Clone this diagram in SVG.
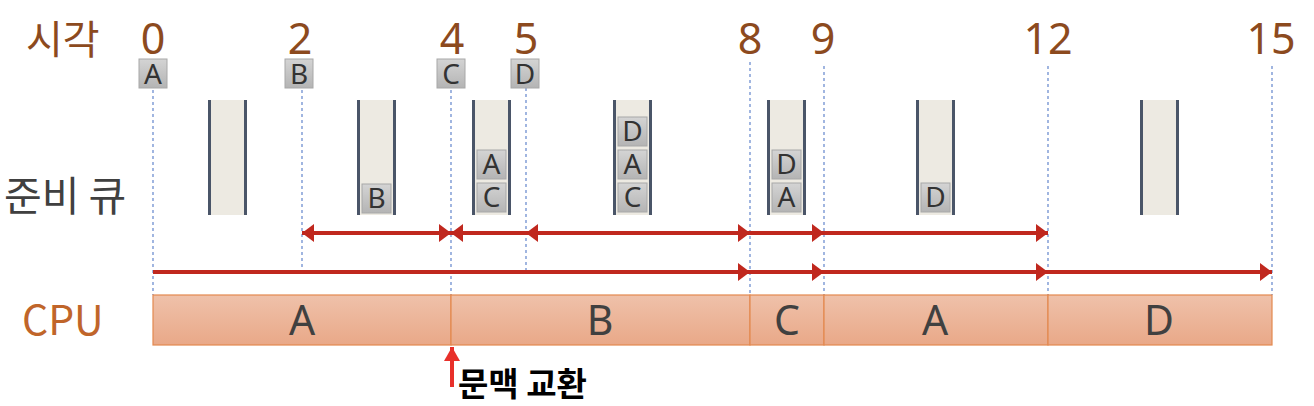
<svg xmlns="http://www.w3.org/2000/svg" width="1314" height="406" viewBox="0 0 1314 406">
<defs>
<linearGradient id="pg" x1="0" y1="0" x2="0" y2="1">
<stop offset="0" stop-color="#d4d4d4"/><stop offset="1" stop-color="#b4b4b4"/>
</linearGradient>
<linearGradient id="cg" x1="0" y1="0" x2="0" y2="1">
<stop offset="0" stop-color="#efc1aa"/><stop offset="1" stop-color="#e9a888"/>
</linearGradient>
<marker id="ah" viewBox="0 0 12 18" refX="12" refY="9" markerWidth="12" markerHeight="18" markerUnits="userSpaceOnUse" orient="auto-start-reverse">
<path d="M0,0 L12,9 L0,18 Z" fill="#c0281e"/>
</marker>
<marker id="rh" viewBox="0 0 14 16" refX="14" refY="8" markerWidth="14" markerHeight="16" markerUnits="userSpaceOnUse" orient="auto">
<path d="M0,0 L14,8 L0,16 Z" fill="#e8302a"/>
</marker>
</defs>
<style>
.lbl{font-family:"Noto Sans CJK KR","Noto Sans",sans-serif;}
.time{font-family:"Noto Sans","Noto Sans CJK KR",sans-serif;font-size:43px;fill:#8c4a1e;text-anchor:middle;}
.pbox{fill:url(#pg);stroke:#a8a8a8;stroke-width:1;}
.ptxt{font-family:"Noto Sans","Noto Sans CJK KR",sans-serif;font-size:28px;fill:#333;text-anchor:middle;}
.qfill{fill:#edeae2;}
.qside{stroke:#4a5568;stroke-width:3;}
.dash{stroke:#6f8fd0;stroke-width:1.3;stroke-dasharray:3,3;fill:none;}
.red{stroke:#c0281e;stroke-width:4;fill:none;}
.cpu{fill:url(#cg);stroke:#e3894f;stroke-width:1.2;}
.ctxt{font-family:"Noto Sans","Noto Sans CJK KR",sans-serif;font-size:41px;fill:#404040;text-anchor:middle;}
</style>

<g id="labels">
<text class="lbl" x="26" y="54" font-size="40" fill="#8c4a1e">시각</text>
<text class="lbl" x="4" y="211" font-size="41" fill="#404040">준비 큐</text>
<text class="lbl" x="22" y="335" font-size="41" fill="#c0652a">CPU</text>
</g>

<g id="time-axis">
<text class="time" x="153" y="54">0</text>
<text class="time" x="300" y="54">2</text>
<text class="time" x="452" y="54">4</text>
<text class="time" x="526" y="54">5</text>
<text class="time" x="750" y="54">8</text>
<text class="time" x="823" y="54">9</text>
<text class="time" x="1048" y="54">12</text>
<text class="time" x="1271" y="54">15</text>
</g>

<g id="guides">
<line class="dash" x1="153" y1="90" x2="153" y2="295"/>
<line class="dash" x1="302" y1="90" x2="302" y2="272"/>
<line class="dash" x1="451" y1="90" x2="451" y2="350"/>
<line class="dash" x1="526" y1="88" x2="526" y2="270"/>
<line class="dash" x1="750" y1="62" x2="750" y2="295"/>
<line class="dash" x1="824" y1="66" x2="824" y2="295"/>
<line class="dash" x1="1048" y1="66" x2="1048" y2="345"/>
<line class="dash" x1="1272" y1="66" x2="1272" y2="295"/>
</g>

<g id="arrivals">
<rect class="pbox" x="139" y="59" width="28" height="29"/><text class="ptxt" x="153" y="84">A</text>
<rect class="pbox" x="285" y="59" width="28" height="29"/><text class="ptxt" x="299" y="84">B</text>
<rect class="pbox" x="437" y="59" width="28" height="29"/><text class="ptxt" x="451" y="84">C</text>
<rect class="pbox" x="511" y="59" width="28" height="29"/><text class="ptxt" x="525" y="84">D</text>
</g>

<g id="queue-0">
<rect class="qfill" x="209" y="100" width="37" height="115"/>
<line class="qside" x1="209.5" y1="100" x2="209.5" y2="215"/><line class="qside" x1="245.5" y1="100" x2="245.5" y2="215"/>
</g>
<g id="queue-2">
<rect class="qfill" x="358" y="100" width="37" height="115"/>
<line class="qside" x1="358.5" y1="100" x2="358.5" y2="215"/><line class="qside" x1="394.5" y1="100" x2="394.5" y2="215"/>
<rect class="pbox" x="362" y="184" width="29" height="29"/><text class="ptxt" x="376.5" y="208">B</text>
</g>
<g id="queue-4">
<rect class="qfill" x="473" y="100" width="37" height="115"/>
<line class="qside" x1="473.5" y1="100" x2="473.5" y2="215"/><line class="qside" x1="509.5" y1="100" x2="509.5" y2="215"/>
<rect class="pbox" x="477" y="150" width="29" height="29"/><text class="ptxt" x="491.5" y="174">A</text>
<rect class="pbox" x="477" y="183" width="29" height="29"/><text class="ptxt" x="491.5" y="207">C</text>
</g>
<g id="queue-5">
<rect class="qfill" x="614" y="100" width="37" height="115"/>
<line class="qside" x1="614.5" y1="100" x2="614.5" y2="215"/><line class="qside" x1="650.5" y1="100" x2="650.5" y2="215"/>
<rect class="pbox" x="618" y="117" width="29" height="29"/><text class="ptxt" x="632.5" y="141">D</text>
<rect class="pbox" x="618" y="150" width="29" height="29"/><text class="ptxt" x="632.5" y="174">A</text>
<rect class="pbox" x="618" y="183" width="29" height="29"/><text class="ptxt" x="632.5" y="207">C</text>
</g>
<g id="queue-8">
<rect class="qfill" x="768" y="100" width="37" height="115"/>
<line class="qside" x1="768.5" y1="100" x2="768.5" y2="215"/><line class="qside" x1="804.5" y1="100" x2="804.5" y2="215"/>
<rect class="pbox" x="772" y="150" width="29" height="29"/><text class="ptxt" x="786.5" y="174">D</text>
<rect class="pbox" x="772" y="183" width="29" height="29"/><text class="ptxt" x="786.5" y="207">A</text>
</g>
<g id="queue-9">
<rect class="qfill" x="917" y="100" width="37" height="115"/>
<line class="qside" x1="917.5" y1="100" x2="917.5" y2="215"/><line class="qside" x1="953.5" y1="100" x2="953.5" y2="215"/>
<rect class="pbox" x="921" y="183" width="29" height="29"/><text class="ptxt" x="935.5" y="207">D</text>
</g>
<g id="queue-12">
<rect class="qfill" x="1141" y="100" width="37" height="115"/>
<line class="qside" x1="1141.5" y1="100" x2="1141.5" y2="215"/><line class="qside" x1="1177.5" y1="100" x2="1177.5" y2="215"/>
</g>

<g id="connectors">
<line class="red" x1="302" y1="233" x2="451" y2="233" marker-start="url(#ah)" marker-end="url(#ah)"/>
<line class="red" x1="451" y1="233" x2="526" y2="233" marker-start="url(#ah)"/>
<line class="red" x1="526" y1="233" x2="750" y2="233" marker-start="url(#ah)" marker-end="url(#ah)"/>
<line class="red" x1="750" y1="233" x2="824" y2="233" marker-end="url(#ah)"/>
<line class="red" x1="824" y1="233" x2="1048" y2="233" marker-end="url(#ah)"/>
<line class="red" x1="153" y1="272" x2="750" y2="272" marker-end="url(#ah)"/>
<line class="red" x1="750" y1="272" x2="824" y2="272" marker-end="url(#ah)"/>
<line class="red" x1="824" y1="272" x2="1048" y2="272" marker-end="url(#ah)"/>
<line class="red" x1="1048" y1="272" x2="1272" y2="272" marker-end="url(#ah)"/>
<line x1="452" y1="387" x2="452" y2="347" stroke="#e8302a" stroke-width="4" marker-end="url(#rh)"/>
</g>

<g id="cpu-A1"><rect class="cpu" x="153" y="295" width="298" height="50"/><text class="ctxt" x="302" y="335">A</text></g>
<g id="cpu-B"><rect class="cpu" x="451" y="295" width="299" height="50"/><text class="ctxt" x="600" y="335">B</text></g>
<g id="cpu-C"><rect class="cpu" x="750" y="295" width="74" height="50"/><text class="ctxt" x="787" y="335">C</text></g>
<g id="cpu-A2"><rect class="cpu" x="824" y="295" width="224" height="50"/><text class="ctxt" x="935" y="335">A</text></g>
<g id="cpu-D"><rect class="cpu" x="1048" y="295" width="224" height="50"/><text class="ctxt" x="1159" y="335">D</text></g>

<g id="context-switch">
<text class="lbl" x="458" y="396" font-size="33" font-weight="bold" fill="#000">문맥 교환</text>
</g>
</svg>
